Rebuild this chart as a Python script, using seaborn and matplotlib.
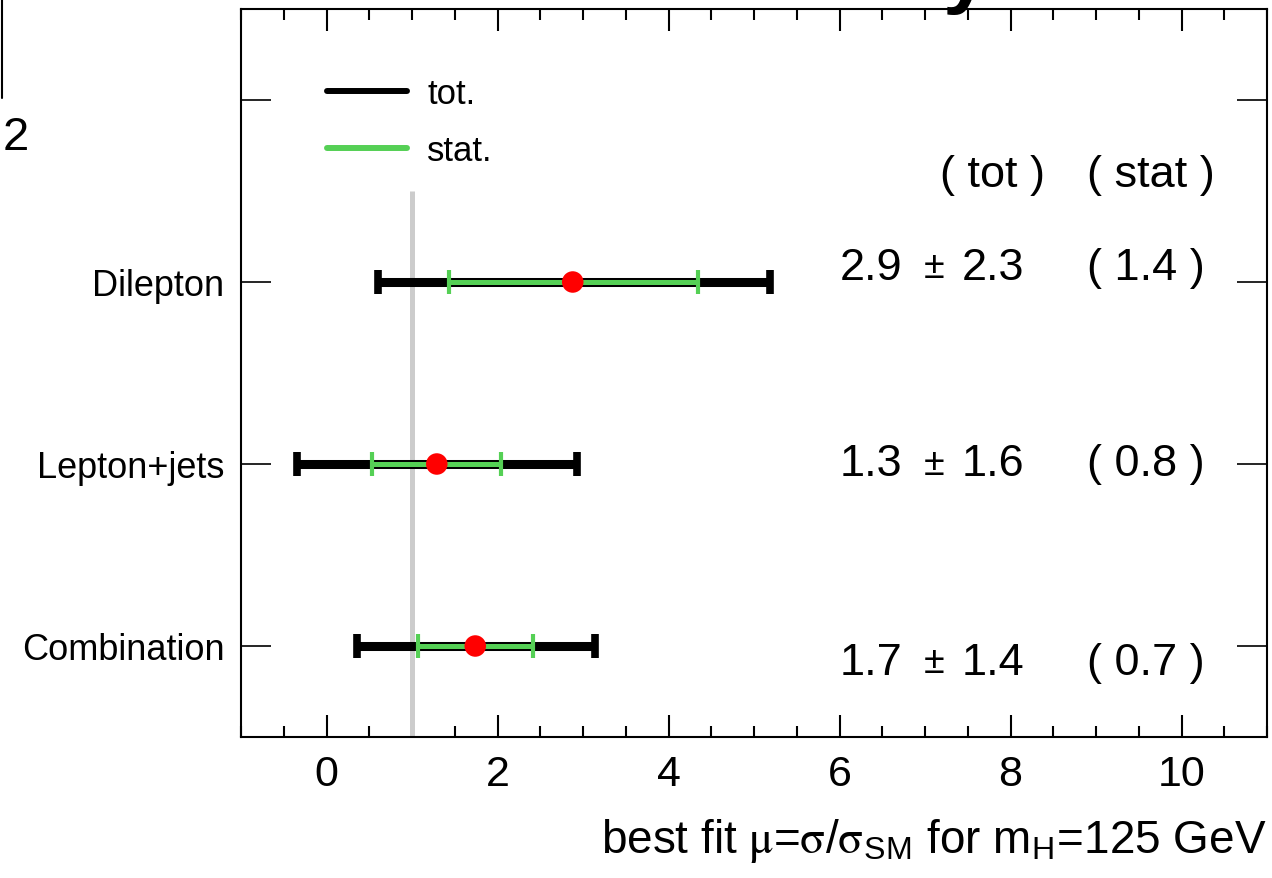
import numpy as np
import pandas as pd
import matplotlib
matplotlib.use("Agg")
import matplotlib.pyplot as plt
from matplotlib.lines import Line2D
from matplotlib.ticker import MultipleLocator
import seaborn as sns

# ---- data ----
categories = ["Dilepton", "Lepton+jets", "Combination"]
mu_best = [2.88, 1.29, 1.74]
tot_lo = [0.60, -0.34, 0.36]
tot_hi = [5.19, 2.93, 3.14]
stat_lo = [1.43, 0.53, 1.07]
stat_hi = [4.34, 2.04, 2.41]
central_text = ["2.9", "1.3", "1.7"]
tot_text = ["2.3", "1.6", "1.4"]
stat_text = ["( 1.4 )", "( 0.8 )", "( 0.7 )"]
text_offset = [0.08, 0.0, -0.09]
sm_value = 1.0
x_ticks = [0, 2, 4, 6, 8, 10]

sns.set_theme(style="ticks")
plt.rcParams["font.family"] = ["Liberation Sans", "DejaVu Sans"]
for k in ["text.color", "axes.labelcolor", "xtick.color", "ytick.color", "axes.edgecolor"]:
    plt.rcParams[k] = "black"

ypos = np.arange(len(categories))[::-1]  # Dilepton at top
df = pd.DataFrame({"cat": categories, "y": ypos, "mu": mu_best,
                   "tlo": tot_lo, "thi": tot_hi, "slo": stat_lo, "shi": stat_hi})

fig = plt.figure(figsize=(12.72, 8.79), dpi=100)
ax = fig.add_axes([241/1272, 1-738/879, (1267-241)/1272, (738-10)/879])

# SM reference line
ax.vlines(sm_value, -0.5, len(categories) - 0.5, color="#cccccc", lw=3.6, zorder=1)

# total error bars
ax.errorbar(df["mu"], df["y"],
            xerr=[df["mu"] - df["tlo"], df["thi"] - df["mu"]],
            fmt="none", ecolor="black", elinewidth=6.5, capsize=8.6, capthick=5.5, zorder=2)
# stat error bars
ax.errorbar(df["mu"], df["y"],
            xerr=[df["mu"] - df["slo"], df["shi"] - df["mu"]],
            fmt="none", ecolor="#55d055", elinewidth=3.6, capsize=8.6, capthick=3.0, zorder=3)
# central values
sns.scatterplot(data=df, x="mu", y="y", color="#ff0000", s=240, edgecolor="none",
                zorder=4, ax=ax, legend=False)

# value texts
for yy, c, t1, t2, off in zip(df["y"], central_text, tot_text, stat_text, text_offset):
    ax.text(6.0, yy + off, c, fontsize=32.5, va="center", ha="left")
    ax.text(6.98, yy + off, "\u00b1", fontsize=27, va="center", ha="left")
    ax.text(7.43, yy + off, t1, fontsize=32.5, va="center", ha="left")
    ax.text(8.9, yy + off, t2, fontsize=32.5, va="center", ha="left")
ax.text(7.17, 2.59, "( tot )", fontsize=32.5, va="center", ha="left")
ax.text(8.9, 2.59, "( stat )", fontsize=32.5, va="center", ha="left")

# legend
handles = [Line2D([], [], color="black", lw=4.3),
           Line2D([], [], color="#55d055", lw=4.3)]
ax.legend(handles, ["tot.", "stat."], loc="upper left", bbox_to_anchor=(0.07, 0.926),
          frameon=False, fontsize=25, handlelength=2.3, handletextpad=0.6,
          labelspacing=0.71, borderaxespad=0)

# axes
ax.set_xlim(-1, 11)
ax.set_ylim(-0.5, len(categories) + 0.5)
ax.set_xticks(x_ticks)
ax.set_xticklabels([str(v) for v in x_ticks], fontsize=31)
ax.xaxis.set_minor_locator(MultipleLocator(0.5))
ax.set_yticks(list(ypos) + [len(categories)])
ax.set_yticklabels(categories + [""], fontsize=26)
ax.tick_params(axis="x", which="major", direction="in", length=16, width=1.5,
               top=True, bottom=True, pad=12)
ax.tick_params(axis="x", which="minor", direction="in", length=8, width=1.5,
               top=True, bottom=True)
ax.tick_params(axis="y", which="major", direction="in", length=21.5, width=1.2,
               left=True, right=True, pad=12)
for s in ax.spines.values():
    s.set_linewidth(1.5)
    s.set_color("black")
ax.set_ylabel("")
ax.set_xlabel(r"best fit $\mathrm{\mu}$=$\mathrm{\sigma}$/$\mathrm{\sigma}_{\mathregular{SM}}$ for m$_{\mathregular{H}}$=125 GeV",
              fontsize=33, loc="right", labelpad=16, math_fontfamily="stix")

# cropped fragments of neighbouring content
fig.add_artist(Line2D([2/1272, 2/1272], [1, 1-99/879], color="black", lw=1.5))
fig.text(3/1272, 1-150/879, "2", fontsize=34, va="baseline", ha="left")
fig.text(942/1272, 1+2/879, "y", fontsize=60, fontweight="bold", va="baseline", ha="left",
         zorder=10)

fig.savefig("out.png", dpi=100)
